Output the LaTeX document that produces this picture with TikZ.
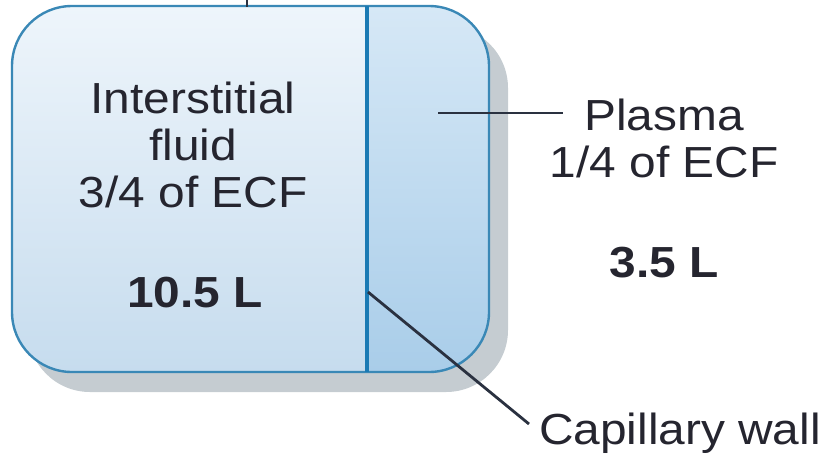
\documentclass[tikz,border=0pt]{standalone}
\usepackage{fontspec}
\setmainfont[FakeStretch=1.1]{Liberation Sans}
\definecolor{txt}{HTML}{25252F}
\definecolor{leadc}{HTML}{2A3140}
\definecolor{lefttop}{HTML}{EEF5FB}
\definecolor{leftbot}{HTML}{C6DCEE}
\definecolor{righttop}{HTML}{D6E8F6}
\definecolor{rightbot}{HTML}{A9CDE9}
\definecolor{borderc}{HTML}{3A88B6}
\definecolor{wallc}{HTML}{1A7AB4}
\definecolor{shadowc}{HTML}{C5CCD1}
\begin{document}
\begin{tikzpicture}[x=1pt,y=-1pt,
  lbl/.style={font=\fontsize{43.5}{47}\selectfont, text=txt, align=center, inner sep=0pt},
  boldlbl/.style={font=\fontsize{43.5}{47}\selectfont\bfseries, text=txt, inner sep=0pt},
  lead/.style={draw=leadc, line width=2.8pt}]
\useasboundingbox (0,0) rectangle (832,456);
% shadow
\fill[shadowc, rounded corners=62pt] (28,26) rectangle (508,392);
% fills
\begin{scope}
  \clip[rounded corners=60pt] (12,6) rectangle (489,372);
  \shade[top color=lefttop, bottom color=leftbot] (12,6) rectangle (367,372);
  \shade[top color=righttop, bottom color=rightbot] (367,6) rectangle (489,372);
\end{scope}
\draw[borderc, line width=2.4pt, rounded corners=60pt] (12,6) rectangle (489,372);
% capillary wall
\coordinate (walltop) at (367,6);
\coordinate (wallbot) at (367,372);
\draw[wallc, line width=4.5pt] (walltop) -- (wallbot);
% top tick
\coordinate (ticktop) at (247,0);
\coordinate (tickbot) at (247,7);
\draw[leadc, line width=2.4pt] (ticktop) -- (tickbot);
% texts
\node[lbl] (inter) at (193,145) {Interstitial\\fluid\\3/4 of ECF};
\node[boldlbl] (vleft) at (195,293) {10.5 L};
\node[lbl] (plasma) at (664,138) {Plasma\\1/4 of ECF};
\node[boldlbl] (vright) at (664,263) {3.5 L};
\node[lbl] (cap) at (680,433) {Capillary wall};
% leaders
\coordinate (pin) at (438,113);
\coordinate (pout) at (563,113);
\draw[lead] (pin) -- (pout);
\coordinate (cin) at (368,292);
\coordinate (cout) at (529,424);
\draw[lead] (cin) -- (cout);
\end{tikzpicture}
\end{document}
